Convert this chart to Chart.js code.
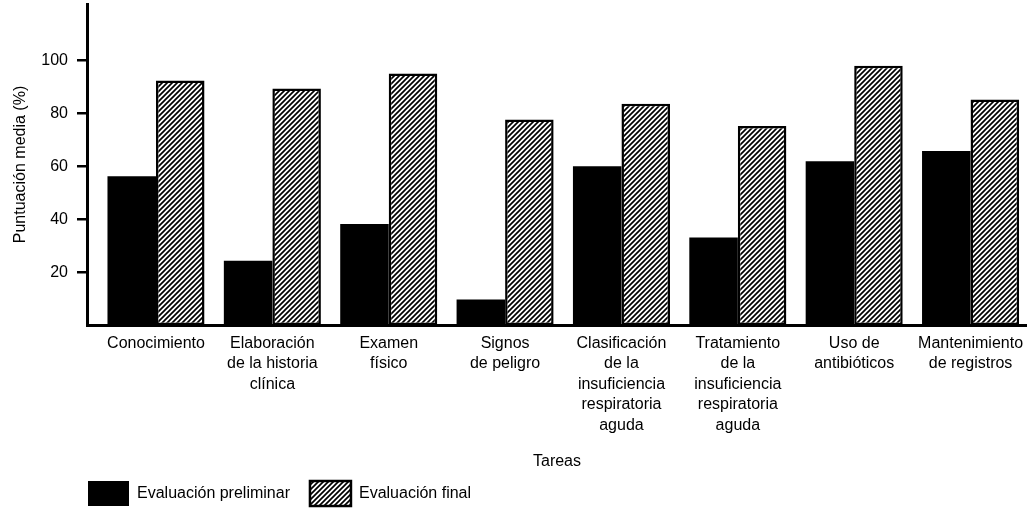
<!DOCTYPE html>
<html>
<head>
<meta charset="utf-8">
<script src="https://cdn.jsdelivr.net/npm/chart.js@4.4.1/dist/chart.umd.min.js"></script>
<style>
  html, body { margin: 0; padding: 0; background: #fff; }
  #wrap { width: 1027px; height: 511px; }
</style>
</head>
<body>
<div id="wrap"><canvas id="c"></canvas></div>
<script>
// Puntuación media por tarea: evaluación preliminar vs. final
const tareas = [
  'Conocimiento',
  ['Elaboración', 'de la historia', 'clínica'],
  ['Examen', 'físico'],
  ['Signos', 'de peligro'],
  ['Clasificación', 'de la', 'insuficiencia', 'respiratoria', 'aguda'],
  ['Tratamiento', 'de la', 'insuficiencia', 'respiratoria', 'aguda'],
  ['Uso de', 'antibióticos'],
  ['Mantenimiento', 'de registros']
];
const evalPreliminar = [56.3, 24.3, 38.2, 9.6, 60, 33.1, 61.9, 65.8];
const evalFinal = [92.5, 89.4, 95.1, 77.7, 83.7, 75.3, 98, 85.3];
const yTicks = [20, 40, 60, 80, 100];

Chart.defaults.font.family = '"Liberation Sans", Arial, Helvetica, sans-serif';
Chart.defaults.font.size = 16;
Chart.defaults.font.lineHeight = 1.28;
Chart.defaults.color = '#000';

const canvas = document.getElementById('c');

// trama diagonal (/) para la evaluación final
function hatch(ctx) {
  const s = 5;
  const tile = document.createElement('canvas');
  tile.width = tile.height = s;
  const g = tile.getContext('2d');
  g.fillStyle = '#fff';
  g.fillRect(0, 0, s, s);
  g.strokeStyle = '#000';
  g.lineWidth = 1.7;
  g.beginPath();
  g.moveTo(0, s); g.lineTo(s, 0);
  g.moveTo(-1, 1); g.lineTo(1, -1);
  g.moveTo(s - 1, s + 1); g.lineTo(s + 1, s - 1);
  g.stroke();
  return ctx.createPattern(tile, 'repeat');
}

// leyenda abajo a la izquierda, alineada con el eje Y
const legendPlace = {
  id: 'legendPlace',
  beforeDraw(chart) {
    const lg = chart.legend;
    const pad = lg.options.labels.padding;
    lg.left = chart.chartArea.left + 1 - pad;
    lg.top = chart.height - 30 - pad;
  }
};

new Chart(canvas, {
  type: 'bar',
  data: {
    datasets: [
      {
        label: 'Evaluación preliminar',
        data: evalPreliminar.map((v, i) => ({ x: i, y: v })),
        backgroundColor: '#000',
        borderColor: '#000',
        borderWidth: 0
      },
      {
        label: 'Evaluación final',
        data: evalFinal.map((v, i) => ({ x: i, y: v })),
        backgroundColor: hatch(canvas.getContext('2d')),
        borderColor: '#000',
        borderWidth: 2.5,
        borderSkipped: false
      }
    ]
  },
  options: {
    responsive: true,
    maintainAspectRatio: false,
    animation: false,
    categoryPercentage: 0.834,
    barPercentage: 1,
    // el hueco de abajo lo fija el eje X; la leyenda se recoloca en legendPlace
    layout: { padding: { top: 4, left: 0, right: 0, bottom: -16 } },
    plugins: {
      legend: {
        position: 'bottom',
        align: 'start',
        labels: { boxWidth: 41, boxHeight: 25, padding: 20, color: '#000' }
      },
      tooltip: { enabled: false }
    },
    scales: {
      x: {
        type: 'linear',
        offset: false,
        min: -0.593,
        max: 7.485,
        afterBuildTicks: s => { s.ticks = tareas.map((_, i) => ({ value: i })); },
        afterFit: s => { s.height = 147; s.paddingLeft = 0; s.paddingRight = 0; },
        grid: { display: false, drawTicks: false, offset: false },
        border: { display: true, color: '#000', width: 3 },
        ticks: {
          autoSkip: false,
          maxRotation: 0,
          padding: 8,
          callback: v => tareas[v]
        },
        title: { display: true, text: 'Tareas', padding: { top: 0, bottom: 0 } }
      },
      y: {
        min: 0,
        max: 121.4,
        afterBuildTicks: s => { s.ticks = yTicks.map(v => ({ value: v })); },
        afterFit: s => { s.width = 87; s.paddingTop = 0; s.paddingBottom = 0; },
        grid: { display: true, drawOnChartArea: false, drawTicks: true, tickLength: 10, color: '#000', lineWidth: 2.5 },
        border: { display: true, color: '#000', width: 3 },
        ticks: { padding: 9 },
        title: { display: true, text: 'Puntuación media (%)', padding: { top: 10, bottom: 0 } }
      }
    }
  },
  plugins: [legendPlace]
});
</script>
</body>
</html>
